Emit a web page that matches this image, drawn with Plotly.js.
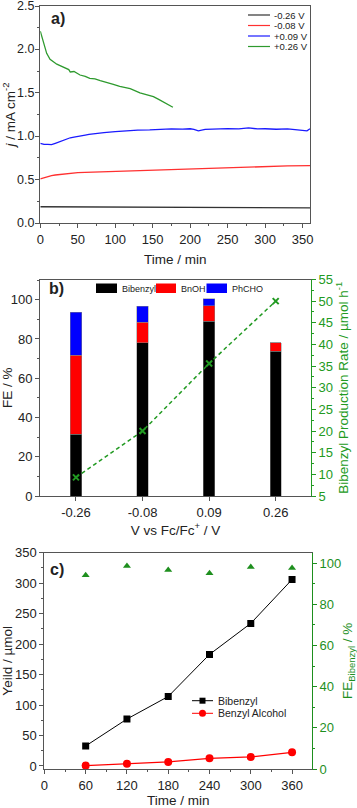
<!DOCTYPE html>
<html><head><meta charset="utf-8">
<script src="https://cdn.plot.ly/plotly-3.0.1.min.js"></script>
<style>html,body{margin:0;padding:0;background:#fff}#chart{width:357px;height:808px}</style>
</head><body><div id="chart"></div>
<script>
// ---------- Panel a: chronoamperometry ----------
const seriesNamesA = ['-0.26 V', '-0.08 V', '+0.09 V', '+0.26 V'];
const seriesColorsA = ['#333333', '#ff3030', '#1a1aff', '#2e9a2e'];
const yTickValsA = [0, 0.5, 1, 1.5, 2, 2.5];
const yTickTextA = ['0.0', '0.5', '1.0', '1.5', '2.0', '2.5'];
const tBlack = [0, 30, 60, 90, 120, 150, 180, 210, 240, 270, 300, 330, 360];
const jBlack = [0.187, 0.186, 0.185, 0.184, 0.183, 0.182, 0.181, 0.180, 0.179, 0.178, 0.177, 0.176, 0.175];
const tRed = [0, 5, 10, 15, 20, 30, 40, 50, 60, 75, 100, 125, 150, 175, 200, 225, 250, 275, 300, 330, 360];
const jRed = [0.507, 0.522, 0.534, 0.545, 0.553, 0.564, 0.573, 0.580, 0.584, 0.588, 0.599, 0.608, 0.616, 0.622, 0.629, 0.635, 0.641, 0.647, 0.653, 0.657, 0.660];
const tBlue = [0, 5, 10, 15, 20, 25, 30, 35, 40, 45, 50, 55, 60, 65, 70, 75, 85, 100, 115, 130, 146, 160, 175, 190, 200, 205, 211, 220, 235, 250, 265, 278, 290, 300, 315, 330, 340, 350, 356, 360];
const jBlue = [0.918, 0.905, 0.906, 0.902, 0.918, 0.935, 0.955, 0.968, 0.982, 0.990, 1.000, 1.005, 1.012, 1.020, 1.026, 1.033, 1.042, 1.052, 1.062, 1.070, 1.072, 1.080, 1.084, 1.082, 1.086, 1.078, 1.062, 1.078, 1.086, 1.088, 1.085, 1.096, 1.084, 1.086, 1.080, 1.084, 1.075, 1.072, 1.062, 1.085];
const tGreen = [0, 1, 4, 8.5, 13, 22, 31, 38, 40, 45, 53, 60, 66, 73, 80, 90, 97.5, 106, 115, 120, 133, 142, 151, 158, 164, 170, 177];
const jGreen = [2.21, 2.17, 2.09, 1.955, 1.886, 1.83, 1.80, 1.768, 1.740, 1.745, 1.705, 1.690, 1.667, 1.660, 1.640, 1.620, 1.598, 1.575, 1.552, 1.548, 1.500, 1.480, 1.455, 1.425, 1.397, 1.368, 1.333];

// ---------- Panel b: Faradaic efficiency ----------
const potentialsB = ['-0.26', '-0.08', '0.09', '0.26'];
const productNamesB = ['Bibenzyl', 'BnOH', 'PhCHO'];
const productColorsB = ['#000000', '#ff0000', '#0000ff'];
const feBibenzyl = [31.5, 78.0, 89.0, 73.7];
const feBnOH = [40.2, 10.4, 7.9, 4.5];
const fePhCHO = [22.0, 8.2, 3.6, 0];
const rateBibenzyl = [9.3, 20.0, 35.6, 50.0];
const rateColor = '#229a22';

// ---------- Panel c: yields over time ----------
const timeC = [60, 120, 180, 240, 300, 360];
const yieldNamesC = ['Bibenzyl', 'Benzyl Alcohol'];
const yieldBibenzyl = [32.8, 77, 114, 183, 234, 306];
const yieldBnOH = [0.6, 3.8, 6.6, 12.6, 14.8, 22.4];
const feBibenzylC = [94.0, 98.5, 96.6, 95.0, 98.0, 97.6];
const feColorC = '#1e8f1e';

// ---------- helpers ----------
const W = 357, H = 808;
const px = x => x / W;
const py = y => 1 - y / H;
const FONT = 'Liberation Sans, Arial, sans-serif';
const TICKF = {family: FONT, size: 13, color: '#222'};
const TITLEF = {family: FONT, size: 13.5, color: '#222'};

function baseAxis(extra) {
  return Object.assign({
    showgrid: false, zeroline: false, showline: true, linecolor: '#555', linewidth: 1,
    ticks: 'outside', ticklen: 4, tickcolor: '#555', tickwidth: 1,
    tickfont: TICKF, automargin: false, ticklabeloverflow: 'allow'
  }, extra);
}

const traces = [];
// a
[[tBlack, jBlack], [tRed, jRed], [tBlue, jBlue], [tGreen, jGreen]].forEach((d, i) => {
  traces.push({type: 'scatter', mode: 'lines', x: d[0], y: d[1], name: seriesNamesA[i],
    line: {color: seriesColorsA[i], width: 1.3}, xaxis: 'x', yaxis: 'y', showlegend: false});
});
// b
[feBibenzyl, feBnOH, fePhCHO].forEach((v, i) => {
  traces.push({type: 'bar', x: potentialsB, y: v, name: productNamesB[i], width: 0.17,
    marker: {color: productColorsB[i], line: {color: '#888', width: 0.5}},
    xaxis: 'x2', yaxis: 'y2', showlegend: false});
});
traces.push({type: 'scatter', mode: 'lines+markers', x: potentialsB, y: rateBibenzyl,
  line: {color: rateColor, width: 1.5, dash: '4px,3px'},
  marker: {symbol: 'x-thin', size: 6, color: rateColor, line: {color: rateColor, width: 2}},
  xaxis: 'x2', yaxis: 'y3', showlegend: false});
// c
traces.push({type: 'scatter', mode: 'lines+markers', x: timeC, y: yieldBibenzyl, name: yieldNamesC[0],
  line: {color: '#000', width: 1}, marker: {symbol: 'square', size: 7, color: '#000'},
  xaxis: 'x3', yaxis: 'y4', showlegend: false});
traces.push({type: 'scatter', mode: 'lines+markers', x: timeC, y: yieldBnOH, name: yieldNamesC[1],
  line: {color: '#ff0000', width: 1.2}, marker: {symbol: 'circle', size: 8, color: '#ff0000'},
  xaxis: 'x3', yaxis: 'y4', showlegend: false});
traces.push({type: 'scatter', mode: 'markers', x: timeC, y: feBibenzylC, name: 'FE',
  marker: {symbol: 'triangle-up', size: 7, color: feColorC},
  xaxis: 'x3', yaxis: 'y5', showlegend: false});

// manual legends
const shapes = [], annotations = [];
const legAy = [15, 25.5, 36, 46.5];
seriesNamesA.forEach((n, i) => {
  shapes.push({type: 'line', xref: 'paper', yref: 'paper', x0: px(248), x1: px(270), y0: py(legAy[i]), y1: py(legAy[i]),
    line: {color: seriesColorsA[i], width: 1.2}});
  annotations.push({xref: 'paper', yref: 'paper', x: px(272), y: py(legAy[i]), xanchor: 'left', yanchor: 'middle',
    text: n, showarrow: false, font: {family: FONT, size: 9.5, color: '#222'}});
});
const legBx = [[96, 117, 119.5], [156, 176, 178.5], [206.5, 227, 229.5]];
productNamesB.forEach((n, i) => {
  shapes.push({type: 'rect', xref: 'paper', yref: 'paper', x0: px(legBx[i][0]), x1: px(legBx[i][1]), y0: py(293), y1: py(283.5),
    fillcolor: productColorsB[i], line: {width: 0}});
  annotations.push({xref: 'paper', yref: 'paper', x: px(legBx[i][2]), y: py(288.5), xanchor: 'left', yanchor: 'middle',
    text: n, showarrow: false, font: {family: FONT, size: 9, color: '#222'}});
});
const legCy = [700.7, 713.3];
const legCc = ['#000000', '#ff0000'];
yieldNamesC.forEach((n, i) => {
  shapes.push({type: 'line', xref: 'paper', yref: 'paper', x0: px(192), x1: px(213), y0: py(legCy[i]), y1: py(legCy[i]),
    line: {color: legCc[i], width: 1}});
  if (i === 0) shapes.push({type: 'rect', xref: 'paper', yref: 'paper', x0: px(199.5), x1: px(205.5), y0: py(legCy[i] + 3), y1: py(legCy[i] - 3),
    fillcolor: legCc[i], line: {width: 0}});
  else shapes.push({type: 'circle', xref: 'paper', yref: 'paper', x0: px(199), x1: px(206), y0: py(legCy[i] + 3.5), y1: py(legCy[i] - 3.5),
    fillcolor: legCc[i], line: {width: 0}});
  annotations.push({xref: 'paper', yref: 'paper', x: px(216), y: py(legCy[i]), xanchor: 'left', yanchor: 'middle',
    text: n, showarrow: false, font: {family: FONT, size: 10.5, color: '#222'}});
});
// panel a y tick labels, placed on the y scale
yTickValsA.forEach((v, i) => {
  annotations.push({xref: 'paper', yref: 'y', x: px(35), y: v, xanchor: 'right', yanchor: 'middle',
    text: yTickTextA[i], showarrow: false, font: {family: FONT, size: 12.5, color: '#222'},
    borderpad: 0, xshift: 0});
});
// panel labels
[['a)', 49, 18], ['b)', 47, 288], ['c)', 48, 569]].forEach(p => {
  annotations.push({xref: 'paper', yref: 'paper', x: px(p[1]), y: py(p[2]), xanchor: 'left', yanchor: 'middle',
    text: '<b>' + p[0] + '</b>', showarrow: false, font: {family: FONT, size: 16, color: '#222'}});
});

const GREEN_AX = {linecolor: rateColor, tickcolor: rateColor, tickfont: {family: FONT, size: 13, color: rateColor}};

const layout = {
  width: W, height: H, margin: {l: 0, r: 0, t: 0, b: 0},
  paper_bgcolor: '#fff', plot_bgcolor: '#fff', showlegend: false,
  font: {family: FONT},
  xaxis: baseAxis({domain: [px(40.3), px(310)], anchor: 'y', range: [0, 360], tickvals: [0, 50, 100, 150, 200, 250, 300, 350],
    mirror: true, minor: {ticks: 'outside', ticklen: 2, dtick: 25, tickcolor: '#555'},
    title: {text: 'Time / min', font: TITLEF, standoff: 8}}),
  yaxis: baseAxis({domain: [py(223), py(6)], anchor: 'x', range: [0, 2.5], tickmode: 'array', tickvals: yTickValsA,
    showticklabels: false, mirror: true, minor: {ticks: 'outside', ticklen: 2, dtick: 0.25, tickcolor: '#555'},
    title: {text: '<i>j</i> / mA cm<sup>-2</sup>', font: TITLEF, standoff: 17}}),
  xaxis2: baseAxis({domain: [px(40), px(311)], anchor: 'y2', type: 'category', categoryorder: 'array', categoryarray: potentialsB,
    range: [-0.54, 3.53], mirror: true,
    title: {text: 'V vs Fc/Fc<sup>+</sup> / V', font: TITLEF, standoff: 6}}),
  yaxis2: baseAxis({domain: [py(496), py(279.5)], anchor: 'x2', range: [0, 110.3], dtick: 20,
    minor: {ticks: 'outside', ticklen: 2, dtick: 10, tickcolor: '#555'},
    title: {text: 'FE / %', font: TITLEF, standoff: 2}}),
  yaxis3: baseAxis(Object.assign({anchor: 'x2', overlaying: 'y2', side: 'right', range: [5, 55], dtick: 5,
    minor: {ticks: 'outside', ticklen: 2, dtick: 2.5, tickcolor: rateColor},
    title: {text: 'Bibenzyl Production Rate / µmol h<sup>-1</sup>', font: {family: FONT, size: 13.5, color: rateColor}, standoff: 4}}, GREEN_AX)),
  xaxis3: baseAxis({domain: [px(44.4), px(312)], anchor: 'y4', range: [0, 389], tickvals: [0, 60, 120, 180, 240, 300, 360],
    mirror: true, minor: {ticks: 'outside', ticklen: 2, dtick: 30, tickcolor: '#555'},
    title: {text: 'Time / min', font: TITLEF, standoff: 5}}),
  yaxis4: baseAxis({domain: [py(769), py(552.7)], anchor: 'x3', range: [-5, 350], dtick: 50,
    minor: {ticks: 'outside', ticklen: 2, dtick: 25, tickcolor: '#555'},
    title: {text: 'Yeild / µmol', font: TITLEF, standoff: 2}}),
  yaxis5: baseAxis(Object.assign({anchor: 'x3', overlaying: 'y4', side: 'right', range: [0, 105], dtick: 20,
    minor: {ticks: 'outside', ticklen: 2, dtick: 10, tickcolor: feColorC},
    title: {text: 'FE<sub>Bibenzyl</sub> / %', font: {family: FONT, size: 13.5, color: feColorC}, standoff: 5}},
    {linecolor: feColorC, tickcolor: feColorC, tickfont: {family: FONT, size: 13, color: feColorC}})),
  barmode: 'stack',
  shapes: shapes, annotations: annotations
};

Plotly.newPlot('chart', traces, layout, {staticPlot: true, displayModeBar: false});
</script></body></html>
